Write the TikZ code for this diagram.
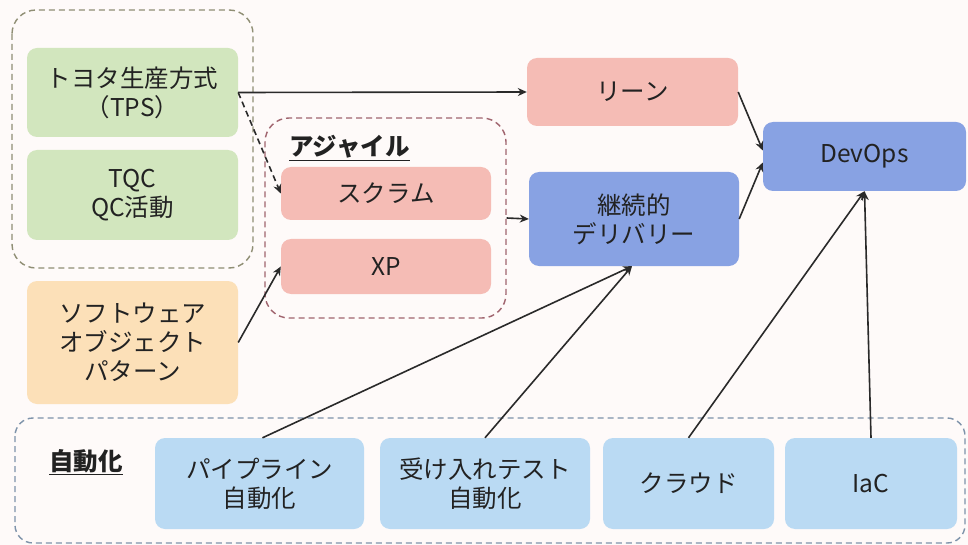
\documentclass[tikz,border=0pt]{standalone}
\usepackage{fontspec}
\newfontfamily\jp{Noto Sans CJK JP}
\usetikzlibrary{arrows.meta}
\definecolor{bgc}{HTML}{FEFAF9}
\definecolor{greenf}{HTML}{D2E6BE}
\definecolor{pinkf}{HTML}{F5BCB5}
\definecolor{orangef}{HTML}{FCE0B8}
\definecolor{bluef}{HTML}{88A2E3}
\definecolor{lbluef}{HTML}{BADAF3}
\definecolor{gline}{HTML}{8F8E74}
\definecolor{aline}{HTML}{A0646E}
\definecolor{bline}{HTML}{7E93AA}
\definecolor{txt}{HTML}{222222}
\definecolor{arr}{HTML}{2A2A2A}
\tikzset{
  box/.style={rounded corners=10pt, draw=none, align=center, text=txt,
    font=\jp\fontsize{24.5}{29}\selectfont, inner sep=0pt},
  grp/.style={rounded corners=24pt, dashed, dash pattern=on 6pt off 4pt, line width=1.4pt},
  conn/.style={draw=arr, line width=1.6pt, -{Stealth[length=9pt,width=8pt]}},
  lbl/.style={text=txt, font=\jp\bfseries\fontsize{24.5}{29}\selectfont, inner sep=0pt}
}
\begin{document}
\begin{tikzpicture}[x=1pt,y=-1pt]
\path[use as bounding box, fill=bgc] (0,0) rectangle (968,545);
% groups
\draw[grp, draw=gline] (12,10) rectangle (253,268);
\node[grp, draw=aline, minimum width=241pt, minimum height=200pt] (agile) at (385.5,218) {};
\draw[grp, draw=bline, rounded corners=18pt] (15,418) rectangle (965,543);
% boxes
\node[box, fill=greenf, minimum width=211pt, minimum height=89pt] (tps) at (132.5,92.5) {トヨタ生産方式\\（TPS）};
\node[box, fill=greenf, minimum width=211pt, minimum height=90pt] (tqc) at (132.5,195) {TQC\\QC活動};
\node[box, fill=orangef, minimum width=211pt, minimum height=123pt] (sop) at (132.5,342.5) {ソフトウェア\\オブジェクト\\パターン};
\node[lbl] (agilel) at (349.5,148) {\underline{アジャイル}};
\node[box, fill=pinkf, minimum width=210pt, minimum height=53pt] (scrum) at (386,193.5) {スクラム};
\node[box, fill=pinkf, minimum width=210pt, minimum height=55pt] (xp) at (386,266.5) {XP};
\node[box, fill=pinkf, minimum width=211pt, minimum height=68pt] (lean) at (632.5,92) {リーン};
\node[box, fill=bluef, minimum width=210pt, minimum height=94pt] (cd) at (634,219) {継続的\\デリバリー};
\node[box, fill=bluef, minimum width=203pt, minimum height=69pt] (devops) at (864.5,156.5) {DevOps};
\node[lbl] (autol) at (86,462) {\underline{自動化}};
\node[box, fill=lbluef, minimum width=209pt, minimum height=91pt] (pipe) at (259.5,483.5) {パイプライン\\自動化};
\node[box, fill=lbluef, minimum width=210pt, minimum height=91pt] (acc) at (485,483.5) {受け入れテスト\\自動化};
\node[box, fill=lbluef, minimum width=171pt, minimum height=91pt] (cloud) at (688.5,483.5) {クラウド};
\node[box, fill=lbluef, minimum width=172pt, minimum height=91pt] (iac) at (871,483.5) {IaC};
% connectors
\draw[conn] (tps.east) -- (lean.west);
\draw[conn, dash pattern=on 6pt off 4pt] (tps.east) -- (scrum.west);
\draw[conn] (sop.east) -- (xp.west);
\draw[conn] (agile.east) -- (cd.west);
\draw[conn] (lean.east) -- ([yshift=6pt]devops.west);
\draw[conn] (cd.east) -- ([yshift=-6pt]devops.west);
\draw[conn] ([xshift=3pt]pipe.north) -- ([xshift=-2pt]cd.south);
\draw[conn] (acc.north) -- ([xshift=-2pt]cd.south);
\draw[conn] (cloud.north) -- (devops.south);
\draw[conn] (iac.north) -- (devops.south);
\end{tikzpicture}
\end{document}
